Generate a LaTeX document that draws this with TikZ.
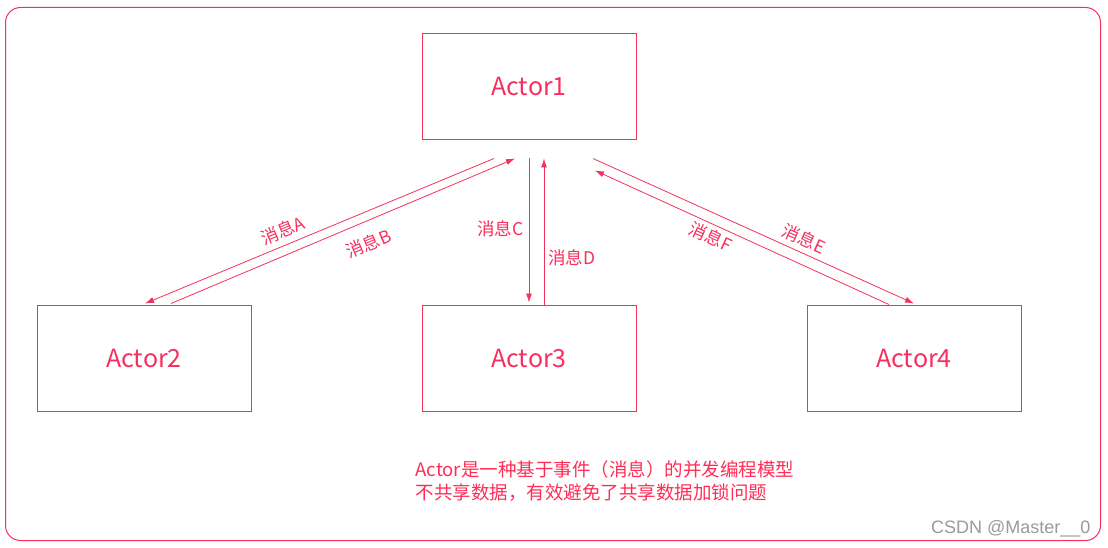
\documentclass[tikz,border=0pt]{standalone}
\usepackage{fontspec}
\setmainfont{Noto Sans CJK SC}
\newfontfamily\markfont{Liberation Sans}
\usetikzlibrary{positioning}
\usetikzlibrary{calc}
\usetikzlibrary{arrows.meta}
\definecolor{actorred}{HTML}{F5305E}
\definecolor{notered}{HTML}{FF2D55}
\definecolor{markgray}{HTML}{9A9A9A}

\begin{document}
\begin{tikzpicture}[x=1pt, y=-1pt, node distance=170pt,
  >={Latex[length=9pt,width=6pt]},
  actor/.style={draw=actorred, line width=1pt, minimum width=214pt, minimum height=106pt,
    text=actorred, font=\fontsize{25}{30}\selectfont},
  msg/.style={draw=actorred, line width=0.8pt},
  lbl/.style={text=actorred, font=\fontsize{17.5}{20}\selectfont, inner sep=3pt},
  note/.style={text=notered, align=left, font=\fontsize{18.5}{23}\selectfont}]

\useasboundingbox (0,0) rectangle (1108,548);
\draw[actorred, line width=1pt, rounded corners=15pt] (5.5,7.5) rectangle (1100.5,540.5);

\node[actor] (a1) at (529,87) {Actor1};
\node[actor] (a3) [below=164pt of a1] {Actor3};
\node[actor] (a2) [left=170pt of a3] {Actor2};
\node[actor] (a4) [right=170pt of a3] {Actor4};

% end points of the messages
\coordinate (a1A) at ($(a1.south)+(-35,18)$);
\coordinate (a2A) at ($(a2.north)+(1,-1)$);
\coordinate (a1B) at ($(a1.south)+(-14,18)$);
\coordinate (a2B) at ($(a2.north)+(27,-1)$);
\coordinate (a1C) at ($(a1.south)+(0,18)$);
\coordinate (a3C) at ($(a3.north)+(0,-2)$);
\coordinate (a1D) at ($(a1.south)+(15,18)$);
\coordinate (a3D) at ($(a3.north)+(15,0)$);
\coordinate (a1E) at ($(a1.south)+(64,18)$);
\coordinate (a4E) at ($(a4.north)+(0,-1)$);
\coordinate (a1F) at ($(a1.south)+(66,30)$);
\coordinate (a4F) at ($(a4.north)+(-25,0)$);

\draw[msg, <-] (a2A) to node[lbl, sloped, above=3pt, pos=0.41] {消息A} (a1A);
\draw[msg, ->] (a2B) to node[lbl, sloped, below=10pt, pos=0.55] {消息B} (a1B);
\draw[msg, ->] (a1C) to node[lbl, left=2pt, pos=0.49] {消息C} (a3C);
\draw[msg, ->] (a3D) to node[lbl, right=1pt, pos=0.32] {消息D} (a1D);
\draw[msg, ->] (a1E) to node[lbl, sloped, above=2pt, pos=0.64] {消息E} (a4E);
\draw[msg, <-] (a1F) to node[lbl, sloped, below=1pt, pos=0.41] {消息F} (a4F);

\node[note, anchor=west] (info) at (412,481) {Actor是一种基于事件（消息）的并发编程模型\\不共享数据，有效避免了共享数据加锁问题};

\node[anchor=east, text=markgray, font=\markfont\fontsize{18}{21}\selectfont] (mark) at (1094,529) {CSDN @Master\_\_0};

\end{tikzpicture}
\end{document}
